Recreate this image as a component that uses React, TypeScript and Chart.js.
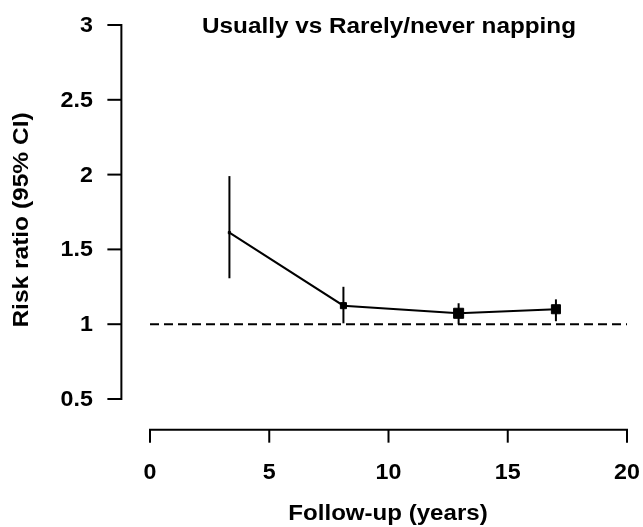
import React, { useEffect, useRef } from "react";
import { Chart, registerables } from "chart.js";

Chart.register(...registerables);

// ---- data ----
const followUpYears = [3.33, 8.11, 12.94, 17.02];
const riskRatio = [1.612, 1.124, 1.073, 1.1];
const ciLower = [1.307, 1.006, 0.999, 1.02];
const ciUpper = [1.99, 1.25, 1.14, 1.166];
const referenceValue = 1;
const xTickValues = [0, 5, 10, 15, 20];
const xTickLabels = ["0", "5", "10", "15", "20"];
const yTickValues = [0.5, 1, 1.5, 2, 2.5, 3];
const yTickLabels = ["0.5", "1", "1.5", "2", "2.5", "3"];
const chartTitle = "Usually vs Rarely/never napping";
const xTitle = "Follow-up (years)";
const yTitle = "Risk ratio (95% CI)";

const FONT = "'Liberation Sans', Arial, Helvetica, sans-serif";

function stretchedText(
  ctx: CanvasRenderingContext2D,
  text: string,
  x: number,
  y: number,
  hScale: number,
  rotate = 0
) {
  ctx.save();
  ctx.translate(x, y);
  if (rotate) ctx.rotate(rotate);
  ctx.scale(hScale, 1);
  ctx.fillText(text, 0, 0);
  ctx.restore();
}

export default function App() {
  const ref = useRef<HTMLCanvasElement | null>(null);

  useEffect(() => {
    document.body.style.margin = "0";
    const canvas = ref.current;
    if (!canvas) return;

    const markerRadii = [1.6, 4.3, 7.1, 6.4];
    const LW = 2;

    const axesPlugin = {
      id: "rAxes",
      afterDraw(chart: any) {
        const ctx = chart.ctx as CanvasRenderingContext2D;
        const xs = chart.scales.x;
        const ys = chart.scales.y;
        ctx.save();
        ctx.strokeStyle = "#000";
        ctx.fillStyle = "#000";
        ctx.lineWidth = LW;
        ctx.lineCap = "butt";

        // y axis
        const yAxisX = xs.getPixelForValue(-1.2);
        const yTop = ys.getPixelForValue(yTickValues[yTickValues.length - 1]);
        const yBot = ys.getPixelForValue(yTickValues[0]);
        ctx.beginPath();
        ctx.moveTo(yAxisX, yTop - 1);
        ctx.lineTo(yAxisX, yBot + 1);
        ctx.stroke();
        ctx.font = `bold 21.5px ${FONT}`;
        ctx.textAlign = "right";
        ctx.textBaseline = "middle";
        yTickValues.forEach((v, i) => {
          const py = ys.getPixelForValue(v);
          ctx.beginPath();
          ctx.moveTo(yAxisX - 14, py);
          ctx.lineTo(yAxisX, py);
          ctx.stroke();
          stretchedText(ctx, yTickLabels[i], yAxisX - 28.5, py + 1, 1.08);
        });

        // x axis
        const xAxisY = ys.getPixelForValue(0.295);
        const xL = xs.getPixelForValue(xTickValues[0]);
        const xR = xs.getPixelForValue(xTickValues[xTickValues.length - 1]);
        ctx.beginPath();
        ctx.moveTo(xL - 1, xAxisY);
        ctx.lineTo(xR + 1, xAxisY);
        ctx.stroke();
        ctx.textAlign = "center";
        xTickValues.forEach((v, i) => {
          const px = xs.getPixelForValue(v);
          ctx.beginPath();
          ctx.moveTo(px, xAxisY);
          ctx.lineTo(px, xAxisY + 13);
          ctx.stroke();
          stretchedText(ctx, xTickLabels[i], px, xAxisY + 43, 1.08);
        });

        // titles
        ctx.font = `bold 21.5px ${FONT}`;
        stretchedText(ctx, chartTitle, 389, 27, 1.13);
        stretchedText(ctx, xTitle, 388, 514, 1.12);
        stretchedText(ctx, yTitle, 22, 220, 1.14, -Math.PI / 2);
        ctx.restore();
      },
    };

    const errorBarSets = followUpYears.map((x, i) => ({
      type: "line" as const,
      data: [
        { x, y: ciLower[i] },
        { x, y: ciUpper[i] },
      ],
      borderColor: "#000",
      borderWidth: LW,
      pointRadius: 0,
      showLine: true,
      clip: false as any,
      order: 2,
    }));

    const chart = new Chart(canvas, {
      type: "scatter",
      data: {
        datasets: [
          {
            type: "line" as const,
            data: followUpYears.map((x, i) => ({ x, y: riskRatio[i] })),
            borderColor: "#000",
            backgroundColor: "#000",
            borderWidth: LW,
            pointStyle: "rect",
            pointRadius: markerRadii,
            pointBorderWidth: 1,
            pointBorderColor: "#000",
            pointBackgroundColor: "#000",
            showLine: true,
            tension: 0,
            clip: false as any,
            order: 0,
          },
          ...errorBarSets,
          {
            type: "line" as const,
            data: [
              { x: xTickValues[0], y: referenceValue },
              { x: xTickValues[xTickValues.length - 1], y: referenceValue },
            ],
            borderColor: "#000",
            borderWidth: LW,
            borderDash: [9, 5],
            pointRadius: 0,
            showLine: true,
            clip: false as any,
            order: 3,
          },
        ],
      },
      options: {
        responsive: false,
        animation: false,
        devicePixelRatio: 1,
        layout: { padding: { left: 150, right: 16, top: 25, bottom: 128 } },
        plugins: {
          legend: { display: false },
          tooltip: { enabled: false },
          title: { display: false },
        },
        scales: {
          x: { type: "linear", min: 0, max: 20, display: false },
          y: { type: "linear", min: 0.5, max: 3, display: false },
        },
      },
      plugins: [axesPlugin],
    });

    return () => chart.destroy();
  }, []);

  return (
    <div style={{ position: "fixed", left: 0, top: 0, width: 643, height: 527, background: "#fff" }}>
      <canvas ref={ref} width={643} height={527} style={{ display: "block" }} />
    </div>
  );
}
